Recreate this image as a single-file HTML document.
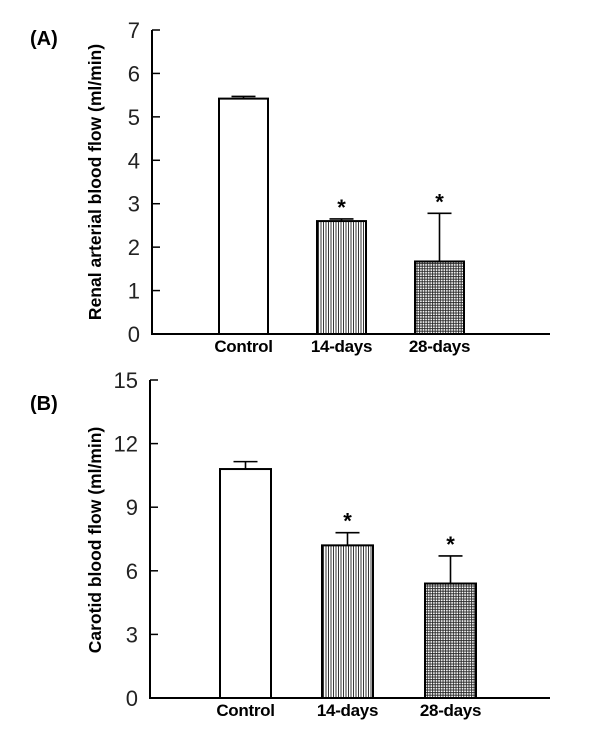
<!DOCTYPE html>
<html><head><meta charset="utf-8"><style>
body{margin:0;background:#fff}
svg{display:block;font-family:"Liberation Sans",Arial,sans-serif}
</style></head><body>
<svg id="c" width="600" height="737" viewBox="0 0 600 737" xmlns="http://www.w3.org/2000/svg">
<defs>
<pattern id="vl" width="2.5" height="4" patternUnits="userSpaceOnUse"><rect width="2.5" height="4" fill="#fff"/><line x1="1" y1="0" x2="1" y2="4" stroke="#222" stroke-width="0.9"/></pattern>
<pattern id="gr" width="2.6" height="2.6" patternUnits="userSpaceOnUse"><rect width="2.6" height="2.6" fill="#fff"/><line x1="1" y1="0" x2="1" y2="2.6" stroke="#222" stroke-width="0.9"/><line x1="0" y1="1" x2="2.6" y2="1" stroke="#222" stroke-width="0.9"/></pattern>
</defs>
<text x="30" y="45" font-size="20" font-weight="bold">(A)</text>
<text x="30" y="410" font-size="20" font-weight="bold">(B)</text>
<g id="pa"></g><g id="pb"></g>
</svg>
<script>
const categories = ["Control","14-days","28-days"];
const renalValues = [5.42, 2.6, 1.67];
const renalErrors = [0.05, 0.05, 1.11];
const renalSig = [false, true, true];
const renalTicks = [0,1,2,3,4,5,6,7];
const carotidValues = [10.8, 7.2, 5.4];
const carotidErrors = [0.35, 0.6, 1.3];
const carotidSig = [false, true, true];
const carotidTicks = [0,3,6,9,12,15];
const fills = ["#fff","url(#vl)","url(#gr)"];
const NS="http://www.w3.org/2000/svg";
function mk(g,tag,attrs,txt){const e=document.createElementNS(NS,tag);for(const k in attrs)e.setAttribute(k,attrs[k]);if(txt!==undefined)e.textContent=txt;g.appendChild(e);return e;}
function panel(gid,cfg){
  const g=document.getElementById(gid);
  const y=v=>cfg.y0-(v-cfg.min)/(cfg.max-cfg.min)*(cfg.y0-cfg.y1);
  const ax=mk(g,'path',{d:`M${cfg.ax},${y(cfg.max)} V${cfg.y0} H550`,fill:'none',stroke:'#000','stroke-width':2});
  
  
  cfg.ticks.forEach(t=>{
    const tk=mk(g,'line',{x1:cfg.ax,x2:cfg.ax+8,y1:y(t),y2:y(t),stroke:'#000','stroke-width':1.5});
    
    
    const tl=mk(g,'text',{x:cfg.ax-12,y:y(t)+8,'font-size':22,'text-anchor':'end',fill:'#222'},t);
    
    
  });
  const tt=mk(g,'text',{x:0,y:0,'font-size':cfg.tfs,'font-weight':'bold','text-anchor':'middle',transform:`translate(${cfg.tx},${cfg.ty}) rotate(-90)`},cfg.title);
  
  
  categories.forEach((c,i)=>{
    const x=cfg.bx[i], w=cfg.bw, v=cfg.vals[i], e=cfg.errs[i];
    const eb=mk(g,'path',{d:`M${x+w/2},${y(v)} V${y(v+e)} M${x+w/2-12},${y(v+e)} H${x+w/2+12}`,stroke:'#000','stroke-width':1.6,fill:'none'});
    
    
    const b=mk(g,'rect',{x:x,y:y(v),width:w,height:y(cfg.min)-y(v),fill:fills[i],stroke:'#000','stroke-width':2});
    
    
    if(cfg.sig[i]){
      const s=mk(g,'text',{x:x+w/2,y:y(v+e)-4,'font-size':22,'font-weight':'bold','text-anchor':'middle'},'*');
      
      
    }
    const cl=mk(g,'text',{x:x+w/2,y:cfg.y0+cfg.ly,'font-size':17,'font-weight':'bold','text-anchor':'middle','letter-spacing':'-0.3'},c);
    
    
  });
}
panel('pa',{p:'renal',ax:152,y0:334,y1:30,min:0,max:7,ticks:renalTicks,vals:renalValues,errs:renalErrors,sig:renalSig,bx:[219,317,415],bw:49,ly:18,tx:101,ty:182,tfs:17.5,title:"Renal arterial blood flow (ml/min)"});
panel('pb',{p:'carotid',ax:150,y0:698,y1:380,min:0,max:15,ticks:carotidTicks,vals:carotidValues,errs:carotidErrors,sig:carotidSig,bx:[220,322,425],bw:51,ly:18,tx:101,ty:540,tfs:17.5,title:"Carotid blood flow (ml/min)"});
</script>
</body></html>
